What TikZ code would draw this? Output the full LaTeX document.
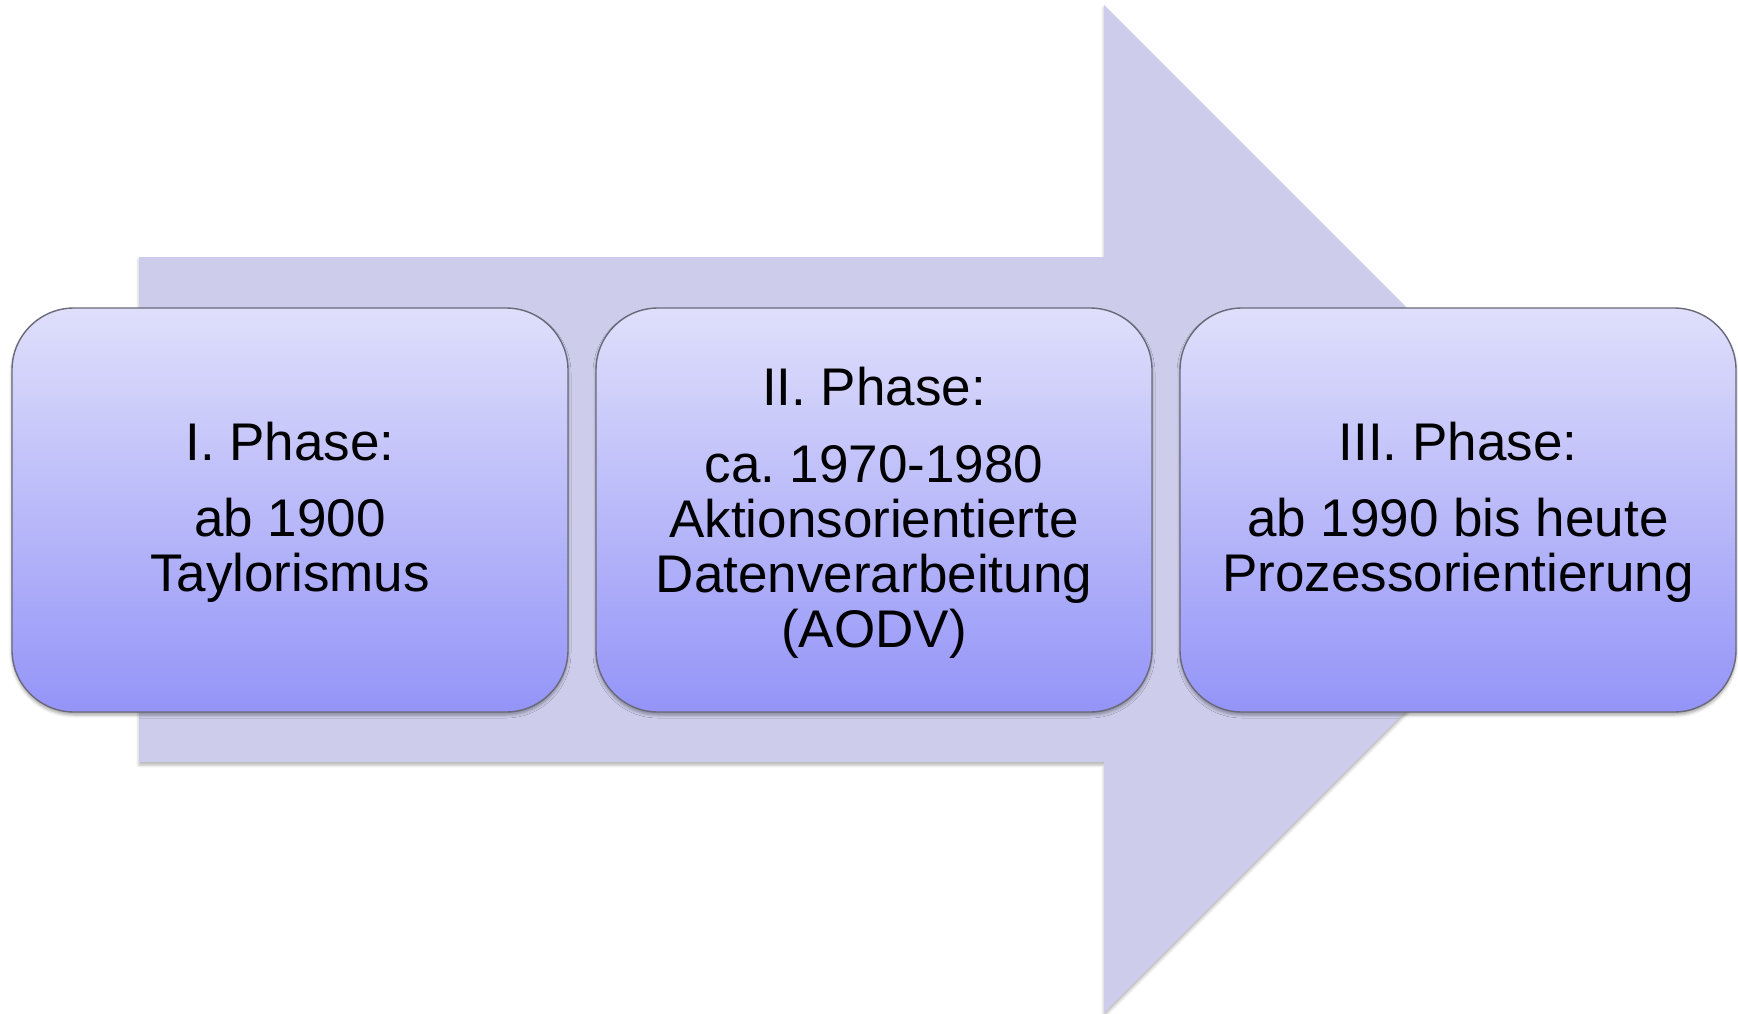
\documentclass[tikz,border=0pt]{standalone}
\usepackage{fontspec}
\setmainfont{Liberation Sans}
\usetikzlibrary{shadows.blur}
\frenchspacing

\definecolor{arrowfill}{RGB}{205,205,235}
\definecolor{boxtop}{RGB}{223,223,251}
\definecolor{boxmid}{RGB}{192,192,249}
\definecolor{boxbot}{RGB}{148,148,248}
\definecolor{boxline}{RGB}{105,105,122}

\tikzset{
  phasebox/.style={
    rectangle, rounded corners=62pt, draw=boxline, line width=1.4pt,
    minimum width=556pt, minimum height=404pt, inner sep=0pt,
    top color=boxtop, middle color=boxmid, bottom color=boxbot,
    blur shadow={shadow xshift=0pt, shadow yshift=-3pt,
                 shadow blur radius=3pt, shadow opacity=35}},
  % the base anchor of these multi-line nodes sits on the last baseline
  phasetext/.style={
    anchor=base, align=center, inner sep=0pt, text=black,
    font={\fontsize{53}{55}\selectfont}},
  bigarrow/.style={
    fill=arrowfill,
    blur shadow={shadow xshift=0pt, shadow yshift=-3pt,
                 shadow blur radius=3pt, shadow opacity=30}}
}

\begin{document}
\begin{tikzpicture}[x=1pt, y=-1pt]
  \useasboundingbox (0,0) rectangle (1738,1014);

  % the large background arrow
  \coordinate (tip) at (1608,509);
  \fill[bigarrow] (139,257) -- (1104,257) -- (1104,5) -- (tip)
       -- (1104,1013) -- (1104,762) -- (139,762) -- cycle;

  % the three phase boxes
  \node[phasebox] (p1) at (290,510) {};
  \node[phasebox] (p2) at (874,510) {};
  \node[phasebox] (p3) at (1458,510) {};

  % texts
  \node[phasetext] (t1) at (290,591)
    {I. Phase:\\[21pt] ab 1900\\ Taylorismus};
  \node[phasetext] (t2) at (874,647)
    {II. Phase:\\[22pt] ca. 1970-1980\\ Aktionsorientierte\\ Datenverarbeitung\\ (AODV)};
  \node[phasetext] (t3) at (1458,591)
    {III. Phase:\\[21pt] ab 1990 bis heute\\ Prozessorientierung};
\end{tikzpicture}
\end{document}
